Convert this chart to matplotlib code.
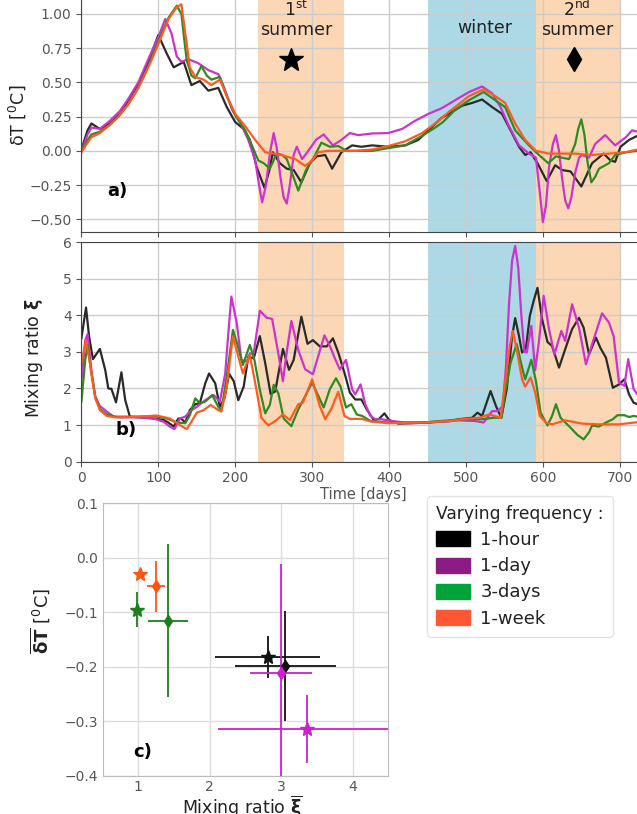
import numpy as np
import matplotlib
matplotlib.use("Agg")
import matplotlib.pyplot as plt
from matplotlib.patches import Patch

# ---------------- panel a : delta T time series ----------------
day_a_hour = [0, 8, 13, 24, 37, 50, 61, 74, 87, 100, 111, 120, 133, 143, 154, 165, 178, 189,
              200, 211, 219, 228, 238, 244, 249, 258, 267, 276, 286, 297, 306, 317, 326, 338,
              352, 364, 378, 399, 421, 438, 451, 468, 482, 495, 508, 521, 534, 547, 558, 569,
              577, 584, 593, 605, 616, 625, 636, 650, 664, 679, 688, 694, 701, 712, 723]
dT_hour = [0.01, 0.15, 0.20, 0.16, 0.20, 0.27, 0.37, 0.49, 0.65, 0.846, 0.71, 0.61, 0.65, 0.48,
           0.51, 0.44, 0.46, 0.32, 0.21, 0.16, 0.08, -0.12, -0.27, -0.15, -0.01, -0.09, -0.13,
           -0.14, -0.23, -0.09, -0.04, -0.03, -0.13, -0.01, 0.04, 0.03, 0.04, 0.03, 0.04, 0.08,
           0.15, 0.24, 0.285, 0.33, 0.35, 0.375, 0.32, 0.27, 0.15, 0.03, -0.03, -0.01, -0.09,
           -0.22, -0.105, -0.14, -0.15, -0.26, -0.09, -0.02, -0.07, -0.08, 0.03, 0.08, 0.11]

day_a_day = [0, 8, 13, 24, 37, 50, 61, 74, 87, 100, 109, 117, 124, 130, 139, 152, 165, 178, 185,
             196, 208, 217, 226, 231, 235, 240, 245, 250, 254, 259, 263, 267, 271, 276, 280, 287,
             295, 305, 315, 327, 338, 349, 360, 378, 399, 417, 434, 451, 468, 486, 504, 521, 534,
             545, 556, 569, 582, 591, 596, 600, 604, 608, 613, 617, 621, 625, 629, 633, 637, 642,
             647, 651, 660, 668, 681, 694, 708, 716, 723]
dT_day = [0.0, 0.12, 0.17, 0.16, 0.22, 0.29, 0.38, 0.50, 0.67, 0.83, 0.963, 0.86, 0.69, 0.65,
          0.67, 0.64, 0.59, 0.56, 0.47, 0.30, 0.19, 0.08, -0.07, -0.25, -0.375, -0.25, -0.02,
          0.13, 0.02, -0.20, -0.34, -0.385, -0.25, -0.03, 0.03, -0.06, 0.0, 0.08, 0.12, 0.04,
          0.08, 0.13, 0.115, 0.127, 0.13, 0.16, 0.22, 0.27, 0.31, 0.37, 0.43, 0.47, 0.42, 0.32,
          0.18, 0.04, -0.02, -0.05, -0.30, -0.52, -0.40, -0.12, 0.05, 0.115, 0.0, -0.20, -0.36,
          -0.42, -0.34, -0.16, -0.05, -0.03, -0.05, 0.05, 0.115, 0.04, 0.10, 0.15, 0.14]

day_a_3day = [0, 8, 13, 24, 37, 48, 61, 74, 87, 100, 113, 124, 130, 134, 137, 143, 148, 156, 163,
              169, 180, 189, 200, 213, 221, 230, 237, 245, 254, 261, 267, 273, 282, 292, 303, 312,
              323, 334, 345, 356, 378, 399, 421, 443, 460, 470, 479, 486, 504, 523, 538, 551, 564,
              582, 595, 607, 617, 625, 634, 642, 646, 650, 654, 658, 663, 668, 673, 686, 694, 708,
              723]
dT_3day = [0.0, 0.08, 0.12, 0.14, 0.19, 0.25, 0.34, 0.46, 0.62, 0.80, 0.97, 1.06, 1.0, 0.80,
           0.66, 0.55, 0.53, 0.62, 0.55, 0.52, 0.54, 0.40, 0.26, 0.15, 0.05, -0.07, -0.09, -0.13,
           -0.02, -0.03, -0.06, -0.15, -0.29, -0.14, -0.04, 0.06, 0.03, 0.035, 0.0, 0.0, 0.0,
           0.02, 0.04, 0.11, 0.17, 0.21, 0.26, 0.30, 0.37, 0.43, 0.37, 0.32, 0.15, 0.04, -0.03,
           -0.09, -0.04, -0.05, -0.06, 0.05, 0.16, 0.23, 0.12, -0.08, -0.23, -0.19, -0.13, -0.09,
           -0.03, -0.01, 0.0]

day_a_week = [0, 8, 13, 24, 37, 48, 61, 74, 87, 100, 113, 124, 130, 135, 141, 148, 159, 169, 180,
              189, 200, 213, 226, 239, 250, 260, 278, 291, 300, 308, 321, 338, 356, 378, 399, 421,
              443, 460, 479, 504, 523, 538, 551, 564, 577, 591, 608, 625, 642, 664, 686, 708, 723]
dT_week = [-0.01, 0.06, 0.10, 0.13, 0.19, 0.25, 0.34, 0.46, 0.61, 0.78, 0.96, 1.05, 1.07, 0.86,
           0.61, 0.54, 0.52, 0.48, 0.52, 0.40, 0.27, 0.18, 0.08, -0.01, -0.02, -0.03, -0.06,
           -0.11, -0.07, -0.01, 0.0, 0.0, 0.0, 0.01, 0.035, 0.07, 0.13, 0.20, 0.29, 0.40, 0.45,
           0.40, 0.35, 0.20, 0.08, 0.0, -0.02, -0.02, -0.02, -0.03, -0.02, -0.01, 0.01]

# ---------------- panel b : mixing ratio time series ----------------
day_b_hour = [0, 6, 10, 15, 24, 31, 35, 39, 45, 52, 57, 63, 76, 94, 107, 113, 120, 126, 130, 135,
              141, 148, 154, 161, 166, 174, 180, 186, 192, 198, 204, 211, 217, 224, 232, 239, 246,
              252, 262, 270, 276, 286, 294, 301, 310, 319, 327, 334, 342, 349, 356, 364, 371, 380,
              387, 394, 400, 412, 430, 451, 479, 491, 508, 515, 521, 532, 539, 546, 553, 560, 564,
              569, 573, 578, 583, 588, 593, 599, 606, 612, 621, 629, 638, 647, 653, 660, 669, 675,
              682, 691, 699, 706, 712, 718, 723]
mix_hour = [3.37, 4.21, 3.42, 2.80, 3.08, 2.50, 2.0, 1.99, 1.62, 2.44, 1.68, 1.23, 1.21, 1.18,
            1.14, 1.07, 0.96, 1.18, 1.17, 1.07, 1.41, 1.57, 1.60, 2.14, 2.41, 2.14, 1.50, 1.73,
            2.40, 2.20, 1.68, 2.05, 2.87, 2.82, 3.43, 2.69, 1.85, 1.92, 3.08, 2.51, 2.78, 3.96,
            3.22, 3.32, 3.15, 3.15, 3.37, 2.98, 2.43, 1.89, 1.70, 1.70, 1.43, 1.14, 1.17, 1.32,
            1.14, 1.04, 1.05, 1.07, 1.11, 1.16, 1.20, 1.34, 1.25, 1.93, 1.52, 1.20, 1.98, 3.43,
            3.92, 3.43, 2.98, 3.10, 3.98, 4.39, 4.75, 3.89, 3.27, 3.16, 2.57, 3.07, 3.62, 3.93,
            3.66, 2.93, 3.39, 3.10, 2.84, 2.02, 2.11, 2.25, 1.84, 1.61, 1.57]

day_b_day = [0, 5, 8, 13, 18, 24, 33, 42, 50, 76, 94, 107, 115, 121, 128, 135, 141, 150, 161, 172,
             180, 187, 191, 195, 202, 208, 215, 219, 224, 232, 241, 248, 256, 262, 267, 273, 282,
             291, 301, 308, 316, 323, 330, 336, 344, 352, 356, 363, 369, 376, 382, 390, 404, 421,
             443, 479, 491, 512, 523, 534, 541, 548, 552, 556, 560, 564, 568, 572, 576, 579, 585,
             590, 595, 601, 608, 615, 624, 629, 638, 647, 656, 666, 677, 686, 692, 699, 706, 711,
             718, 723]
mix_day = [2.19, 3.32, 3.48, 2.50, 1.78, 1.52, 1.37, 1.23, 1.21, 1.21, 1.18, 1.09, 0.96, 0.89,
           1.18, 1.23, 1.37, 1.50, 1.68, 1.82, 1.64, 2.41, 3.50, 4.51, 3.78, 2.78, 2.73, 2.95,
           2.96, 4.12, 3.93, 3.90, 2.96, 2.20, 3.00, 3.84, 3.05, 2.52, 2.39, 2.89, 3.45, 3.16,
           2.80, 2.52, 2.78, 1.98, 1.84, 2.11, 1.57, 1.25, 1.16, 1.16, 1.11, 1.07, 1.07, 1.11,
           1.13, 1.11, 1.07, 1.38, 1.38, 1.52, 2.60, 4.30, 5.50, 5.89, 5.30, 4.00, 3.00, 2.98,
           3.71, 2.50, 3.30, 4.53, 3.62, 2.93, 3.57, 3.30, 4.30, 3.66, 2.66, 3.34, 4.05, 3.80,
           3.43, 2.16, 2.07, 2.80, 1.98, 1.84]

day_b_3day = [0, 5, 8, 13, 18, 24, 33, 44, 76, 94, 111, 124, 135, 141, 148, 154, 161, 170, 178,
              182, 189, 197, 203, 210, 219, 225, 232, 239, 245, 250, 256, 263, 273, 282, 291, 300,
              308, 315, 323, 331, 337, 344, 351, 358, 365, 376, 399, 443, 479, 495, 521, 536, 546,
              551, 558, 566, 573, 577, 585, 591, 597, 606, 612, 617, 623, 634, 645, 653, 660, 664,
              673, 682, 691, 697, 706, 712, 718, 723]
mix_3day = [1.64, 2.78, 3.19, 2.41, 1.78, 1.44, 1.29, 1.23, 1.23, 1.25, 1.18, 1.07, 1.05, 1.27,
            1.73, 1.60, 1.64, 1.82, 1.50, 1.41, 2.32, 3.60, 3.19, 2.64, 3.19, 2.78, 1.96, 1.32,
            1.55, 2.10, 1.87, 1.18, 0.97, 1.43, 1.79, 2.16, 1.80, 1.48, 1.98, 2.28, 2.05, 1.48,
            1.57, 1.29, 1.25, 1.11, 1.07, 1.07, 1.13, 1.16, 1.16, 1.20, 1.20, 1.89, 2.70, 3.21,
            2.57, 2.25, 2.78, 2.20, 1.34, 0.99, 1.25, 1.57, 1.20, 0.97, 0.73, 0.61, 0.80, 0.99,
            0.96, 1.07, 1.16, 1.27, 1.27, 1.22, 1.25, 1.23]

day_b_week = [0, 6, 11, 18, 24, 33, 44, 76, 98, 115, 128, 137, 143, 150, 159, 168, 178, 182, 189,
              197, 204, 210, 219, 226, 234, 243, 252, 262, 271, 282, 288, 300, 310, 317, 325, 334,
              342, 349, 364, 376, 399, 443, 479, 495, 517, 530, 545, 551, 557, 561, 566, 573, 577,
              584, 590, 596, 604, 612, 629, 651, 673, 699, 723]
mix_week = [2.69, 3.32, 2.70, 1.73, 1.41, 1.25, 1.21, 1.23, 1.26, 1.18, 1.00, 0.89, 1.09, 1.34,
            1.41, 1.55, 1.41, 1.37, 2.05, 3.42, 2.87, 2.41, 2.91, 2.15, 1.20, 0.99, 1.11, 1.29,
            1.14, 1.57, 1.61, 2.25, 1.52, 1.16, 1.45, 1.91, 1.25, 1.17, 1.17, 1.10, 1.05, 1.07,
            1.11, 1.16, 1.20, 1.29, 1.20, 2.16, 3.16, 3.57, 3.07, 2.25, 2.05, 2.30, 1.89, 1.25,
            1.07, 1.02, 1.13, 1.04, 1.02, 1.02, 1.08]

# seasons [start, end] in days
summer1 = [229, 341]
winter = [450, 591]
summer2 = [591, 700]

# ---------------- panel c : season means ----------------
# order: 1-hour, 1-day, 3-days, 1-week
star_mix = [2.81, 3.36, 0.98, 1.02]
star_mix_err = [0.73, 1.24, 0.03, 0.01]
star_dT = [-0.182, -0.314, -0.095, -0.029]
star_dT_err = [0.039, 0.062, 0.032, 0.006]
diam_mix = [3.06, 3.00, 1.41, 1.25]
diam_mix_err = [0.70, 0.43, 0.28, 0.13]
diam_dT = [-0.198, -0.211, -0.115, -0.052]
diam_dT_err = [0.101, 0.20, 0.141, 0.047]

freq_labels = ["1-hour", "1-day", "3-days", "1-week"]
line_colors = ["#2a2a2a", "#CC33CC", "#2E8B22", "#FF5A1F"]
point_colors = ["#111111", "#CC22CC", "#1E7E1E", "#FF5511"]
legend_colors = ["#000000", "#8D1B84", "#00A23A", "#FF5733"]

summer_col = "#FCD7B5"
winter_col = "#ADD8E6"
tick_col = "#555555"

fig = plt.figure(figsize=(6.37, 8.14), dpi=100)

ax_a = fig.add_axes([0.1278, 0.7154, 0.885, 0.2860])
ax_b = fig.add_axes([0.1278, 0.4328, 0.885, 0.2699], sharex=ax_a)
ax_c = fig.add_axes([0.161, 0.0467, 0.4487, 0.335])

for ax in (ax_a, ax_b):
    ax.axvspan(*summer1, color=summer_col, lw=0, zorder=0)
    ax.axvspan(*winter, color=winter_col, lw=0, zorder=0)
    ax.axvspan(*summer2, color=summer_col, lw=0, zorder=0)
    ax.grid(True, color="#cccccc", lw=1.0)
    for s in ax.spines.values():
        s.set_color("#444444")
    ax.tick_params(colors=tick_col, labelsize=10, labelcolor=tick_col)

series_a = [(day_a_hour, dT_hour), (day_a_day, dT_day), (day_a_3day, dT_3day), (day_a_week, dT_week)]
series_b = [(day_b_hour, mix_hour), (day_b_day, mix_day), (day_b_3day, mix_3day), (day_b_week, mix_week)]

for (d, v), c in zip(series_a, line_colors):
    ax_a.plot(d, v, color=c, lw=1.6, solid_joinstyle="round")
for (d, v), c in zip(series_b, line_colors):
    ax_b.plot(d, v, color=c, lw=1.6, solid_joinstyle="round")

ax_a.set_xlim(0, 733)
ax_a.set_ylim(-0.59, 1.11)
ax_a.set_yticks([-0.5, -0.25, 0.0, 0.25, 0.5, 0.75, 1.0])
ax_a.set_yticklabels(["\u22120.50", "\u22120.25", "0.00", "0.25", "0.50", "0.75", "1.00"])
ax_a.set_xticks(range(0, 800, 100))
ax_a.tick_params(labelbottom=False)
ax_a.set_ylabel("\u03b4T [$^0$C]", fontsize=12.5, color="#222222")
ax_a.yaxis.set_label_coords(-0.095, 0.5)

ax_a.text(33, -0.29, "a)", fontsize=13, fontweight="bold", ha="left", va="center")
ax_a.text(279, 0.985, "1$^{\\rm st}$", fontsize=12.5, ha="center", va="baseline", color="#222222")
ax_a.text(279, 0.843, "summer", fontsize=12.5, ha="center", va="baseline", color="#222222")
ax_a.text(524, 0.864, "winter", fontsize=12.5, ha="center", va="baseline", color="#222222")
ax_a.text(644, 0.985, "2$^{\\rm nd}$", fontsize=12.5, ha="center", va="baseline", color="#222222")
ax_a.text(644, 0.843, "summer", fontsize=12.5, ha="center", va="baseline", color="#222222")
ax_a.plot([272], [0.664], marker="*", ms=18, color="black", ls="none")
ax_a.plot([641], [0.669], marker="d", ms=12.5, color="black", ls="none")

ax_b.set_ylim(0, 6)
ax_b.set_yticks(range(0, 7))
ax_b.set_ylabel("Mixing ratio $\\mathbf{\\xi}$", fontsize=12.5, color="#222222")
ax_b.yaxis.set_label_coords(-0.065, 0.47)
ax_b.set_xlabel("Time [days]", fontsize=10.5, color=tick_col, labelpad=1)
ax_b.text(44, 0.87, "b)", fontsize=13, fontweight="bold", ha="left", va="center")

# panel c
ax_c.grid(True, color="#dddddd", lw=1.0)
for s in ax_c.spines.values():
    s.set_color("#bbbbbb")
ax_c.tick_params(colors=tick_col, labelsize=10, labelcolor=tick_col, length=0, pad=3)
for i in range(4):
    c = point_colors[i]
    ax_c.errorbar(diam_mix[i], diam_dT[i], xerr=diam_mix_err[i], yerr=diam_dT_err[i],
                  fmt="d", ms=6, color=c, ecolor=c, elinewidth=1.3, capsize=0)
    ax_c.errorbar(star_mix[i], star_dT[i], xerr=star_mix_err[i], yerr=star_dT_err[i],
                  fmt="*", ms=10, color=c, ecolor=c, elinewidth=1.3, capsize=0)
ax_c.set_xlim(0.5, 4.5)
ax_c.set_ylim(-0.4, 0.1)
ax_c.set_xticks([1, 2, 3, 4])
ax_c.set_yticks([-0.4, -0.3, -0.2, -0.1, 0.0, 0.1])
ax_c.set_yticklabels(["\u22120.4", "\u22120.3", "\u22120.2", "\u22120.1", "0.0", "0.1"])
ax_c.set_xlabel("Mixing ratio $\\overline{\\mathbf{\\xi}}$", fontsize=12.5, color="#222222")
ax_c.xaxis.set_label_coords(0.49, -0.064)
ax_c.set_ylabel("$\\overline{\\mathbf{\\delta T}}$ [$^0$C]", fontsize=13, color="#222222")
ax_c.yaxis.set_label_coords(-0.177, 0.57)
ax_c.text(0.925, -0.356, "c)", fontsize=13, fontweight="bold", ha="left", va="center")

handles = [Patch(facecolor=c, edgecolor=c) for c in legend_colors]
leg = fig.legend(handles, freq_labels, loc="upper left", bbox_to_anchor=(427 / 637, 1 - 496 / 814),
                 borderaxespad=0, fontsize=13, title="Varying frequency :", title_fontsize=12.3,
                 handlelength=1.9, handleheight=0.9, handletextpad=0.55, labelspacing=0.45,
                 alignment="left", frameon=True, fancybox=True, edgecolor="#dddddd",
                 borderpad=0.5)
for t in leg.get_texts():
    t.set_color("#222222")
leg.get_title().set_color("#222222")

fig.savefig("out.png", dpi=100)
